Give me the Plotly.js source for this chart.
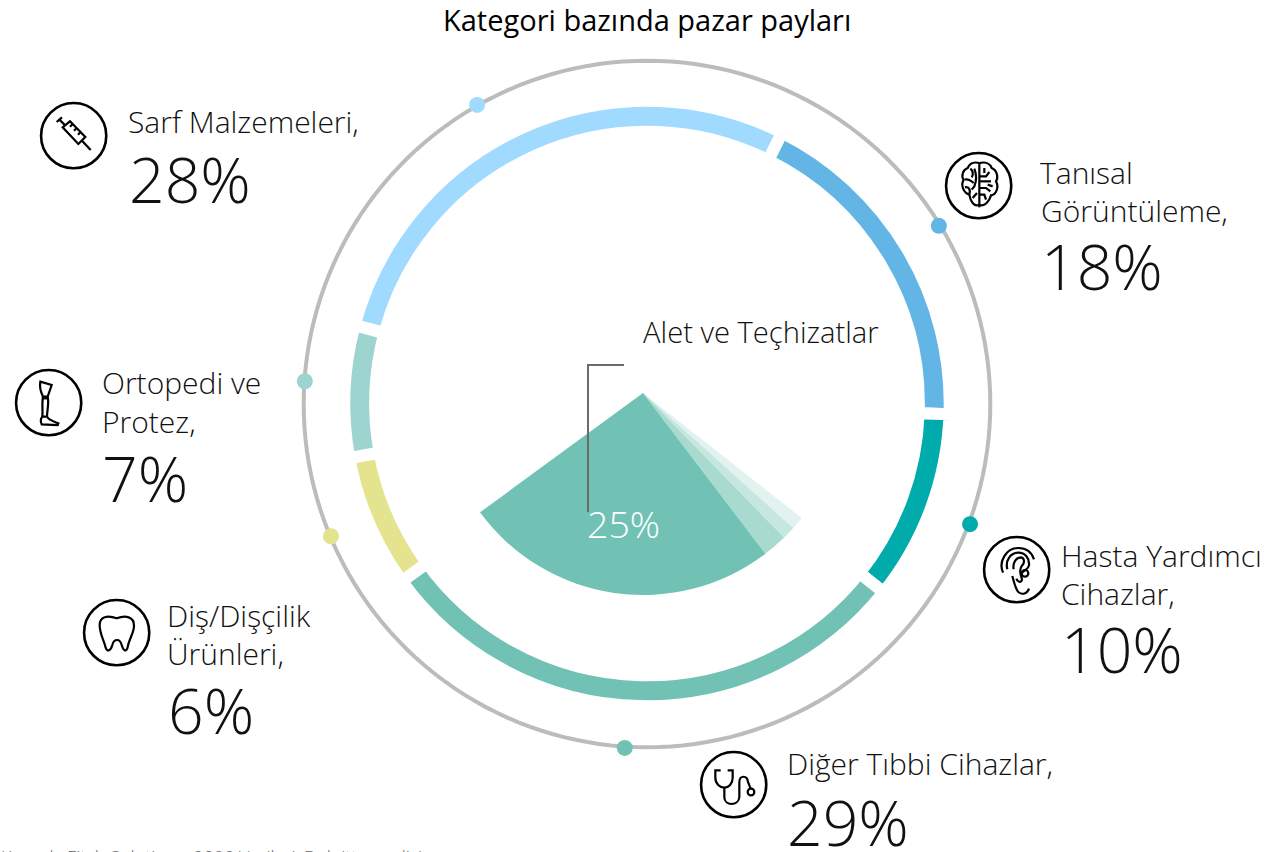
<!DOCTYPE html>
<html><head><meta charset="utf-8">
<script src="https://cdn.plot.ly/plotly-3.0.1.min.js"></script>
<style>html,body{margin:0;padding:0;background:#fff;overflow:hidden}#c{width:1264px;height:852px}</style>
</head><body><div id="c"></div>
<script>
const W = 1264, H = 852;
const chartTitle = 'Kategori bazında pazar payları';
const categories = ['Sarf Malzemeleri', 'Tanısal Görüntüleme', 'Hasta Yardımcı Cihazlar', 'Diğer Tıbbi Cihazlar', 'Diş/Dişçilik Ürünleri', 'Ortopedi ve Protez'];
const shares = [28, 18, 10, 29, 6, 7];
// arc lengths as drawn in the picture (the printed shares do not add to 100)
const arcSpans = [28.2, 18.2, 10.15, 29.3, 7.1, 7.05];
const ringColors = ['#a0dbff', '#62b5e5', '#00abab', '#71c2b4', '#e3e48d', '#9dd4cf'];
const dotAngles = [330.4, 58.6, 110.4, 183.7, 247.3, 273.8];
const dotRadii = [1.002, 0.996, 1.004, 1.004, 0.998, 0.999];
const fanLabels = ['d', 'c', 'b', 'Alet ve Teçhizatlar', 'rest'];
const fanValues = [1.05, 1.03, 1.95, 25.3, 70.67];
const fanColors = ['#e2f2ee', '#c6e6e0', '#a8dad0', '#71c2b4', 'rgba(0,0,0,0)'];
const subTitle = 'Alet ve Teçhizatlar';
const subShare = 25;
const source = 'Kaynak: Fitch Solutions, 2020 Verileri, Deloitte analizi';

const dom = (cx, cy, r) => ({x: [(cx - r) / W, (cx + r) / W], y: [1 - (cy + r) / H, 1 - (cy - r) / H]});
const px = x => x / W, py = y => 1 - y / H;
const radialMax = 1.03;

const traces = [
  {type: 'pie', values: arcSpans, labels: categories, sort: false, direction: 'clockwise', rotation: 285,
   hole: 0.898, domain: dom(647, 403.5, 302.7), textinfo: 'none', showlegend: false, hoverinfo: 'label',
   marker: {colors: ringColors, line: {color: '#ffffff', width: 12}}},
  {type: 'pie', values: fanValues, labels: fanLabels, sort: false, direction: 'clockwise', rotation: 128.2,
   domain: dom(643, 393, 202), textinfo: 'none', showlegend: false, hoverinfo: 'skip',
   marker: {colors: fanColors, line: {width: 0}}},
  {type: 'scatterpolar', subplot: 'polar', mode: 'lines', r: Array(181).fill(1), theta: Array.from({length: 181}, (_, i) => i * 2),
   cliponaxis: false, line: {color: '#bbbcbc', width: 4}, hoverinfo: 'skip', showlegend: false},
  {type: 'scatterpolar', subplot: 'polar', mode: 'markers', r: dotRadii, theta: dotAngles, cliponaxis: false,
   marker: {color: ringColors, size: 16}, hoverinfo: 'skip', showlegend: false}
];

const txt = (text, x, y, size, o = {}) => ({text, x: px(x), y: py(y), xref: 'paper', yref: 'paper', showarrow: false,
  xanchor: o.anchor || 'left', yanchor: 'middle', align: 'left',
  font: {family: '"Open Sans", sans-serif', size, color: o.color || '#111', weight: o.weight || 300}});
const pct = v => v + '%';
const annotations = [
  txt(chartTitle, 647, 19, 29, {anchor: 'center', weight: 400, color: '#000'}),
  txt('Sarf Malzemeleri,', 126, 121.5, 30), txt(pct(shares[0]), 127, 178, 62.5),
  txt('Tanısal', 1038, 172.5, 30), txt('Görüntüleme,', 1039, 210.5, 30), txt(pct(shares[1]), 1039, 265, 62.5),
  txt('Hasta Yardımcı', 1059, 555.5, 30), txt('Cihazlar,', 1059, 593.5, 30), txt(pct(shares[2]), 1059, 648, 62.5),
  txt('Diğer Tıbbi Cihazlar,', 785, 763.5, 30), txt(pct(shares[3]), 785, 821, 62.5),
  txt('Diş/Dişçilik', 165, 615.5, 30), txt('Ürünleri,', 165, 653.5, 30), txt(pct(shares[4]), 166, 709, 62.5),
  txt('Ortopedi ve', 100, 382.5, 30), txt('Protez,', 100, 421.5, 30), txt(pct(shares[5]), 100, 477, 62.5),
  txt(subTitle, 641, 331.5, 29.2),
  txt(pct(subShare), 585, 523.5, 37.5, {color: '#ffffff'}),
  txt(source, -1, 857, 18, {color: '#666'})
];

// icons are drawn in a 225-unit box (3 units per pixel), placed by its top-left corner
function icon(ox, oy, paths) {
  const out = [];
  out.push({type: 'circle', xref: 'paper', yref: 'paper', x0: px(ox + 113/3 - 32.6), x1: px(ox + 113/3 + 32.6),
    y0: py(oy + 113/3 - 32.6), y1: py(oy + 113/3 + 32.6), line: {color: '#000', width: 2.6}});
  paths.forEach(d => {
    let k = 0;
    const path = d.replace(/-?\d+(\.\d+)?/g, n => {
      const v = parseFloat(n) / 3;
      return (k++ % 2 === 0) ? px(ox + v).toFixed(6) : py(oy + v).toFixed(6);
    });
    out.push({type: 'path', xref: 'paper', yref: 'paper', path, line: {color: '#000', width: 2.2}});
  });
  return out;
}
const circ = (x, y, r) => `M${x-r},${y} C${x-r},${y-r*0.55} ${x-r*0.55},${y-r} ${x},${y-r} C${x+r*0.55},${y-r} ${x+r},${y-r*0.55} ${x+r},${y} C${x+r},${y+r*0.55} ${x+r*0.55},${y+r} ${x},${y+r} C${x-r*0.55},${y+r} ${x-r},${y+r*0.55} ${x-r},${y} Z`;
const syringe = ['M62,72 L78,58', 'M70,65 L88,82', 'M80,88 L102,70 L148,117 L127,138 Z', 'M102,86 L110,78', 'M114,98 L122,90', 'M126,110 L134,102', 'M138,128 L164,156'];
const brain = ['M115,45 L115,178', 'M115,45 C95,40 85,48 80,60 C65,65 60,85 68,95 C58,112 68,135 85,140 C88,160 100,178 115,170',
  'M115,45 C135,40 148,48 152,60 C170,68 172,90 165,100 C175,118 165,140 150,142 C145,160 130,178 115,170',
  'M88,62 C96,68 98,80 92,88', 'M72,95 C82,92 92,100 98,105', 'M100,62 C105,75 108,95 100,115 L92,125', 'M72,118 C82,115 90,125 85,138', 'M95,150 L108,135',
  'M115,85 L135,85 L145,72', 'M115,100 L150,100', 'M115,120 L135,120 L148,130', 'M115,140 L130,140 L135,155', 'M130,60 L130,75', 'M155,115 L140,110'];
const ear = ['M72,122 C58,90 80,48 118,48 C140,48 158,60 165,82', 'M85,112 C78,85 95,62 118,62 C138,62 152,78 150,100 C148,112 138,112 130,122',
  'M100,132 C106,155 110,172 118,180 C130,190 145,185 150,170', 'M104,112 C100,92 112,76 126,76 C136,78 138,90 130,100 C122,108 122,122 128,138 C132,150 120,155 112,140', circ(138, 124, 10)];
const steth = ['M74,70 L58,70 L58,92 C58,110 72,122 85,122 C98,122 110,110 110,92 L110,70 L95,70', 'M85,122 L85,150 C85,178 128,178 130,150 L130,105 C130,84 154,84 156,105 L164,125', circ(165, 135, 10)];
const tooth = ['M62,90 C62,65 85,60 113,70 C140,60 165,65 165,92 C165,115 150,130 145,160 C140,172 132,165 128,150 C123,130 105,130 100,150 C95,168 85,172 80,158 C75,135 62,118 62,90 Z'];
const leg = ['M88,50 L122,60 L110,95 L96,95 C88,78 85,65 88,50 Z', 'M96,95 C92,115 96,135 94,155', 'M110,95 C115,115 108,135 108,155', 'M94,155 L108,155 C112,165 130,170 142,175 L140,180 L92,178 C88,170 90,160 94,155 Z', 'M94,100 L110,100'];

const shapes = [
  {type: 'path', xref: 'paper', yref: 'paper',
   path: `M${px(624)},${py(365)} L${px(588)},${py(365)} L${px(588)},${py(512)}`, line: {color: '#6b6b6b', width: 2}},
  ...icon(36, 98, syringe), ...icon(941, 148, brain), ...icon(979, 532, ear),
  ...icon(696, 747, steth), ...icon(79, 595, tooth), ...icon(11, 365, leg)
];

const layout = {
  width: W, height: H, margin: {l: 0, r: 0, t: 0, b: 0}, paper_bgcolor: '#fff', showlegend: false,
  polar: {domain: dom(647, 404, 343.3 * radialMax), bgcolor: 'rgba(0,0,0,0)',
    radialaxis: {visible: false, range: [0, radialMax]},
    angularaxis: {visible: false, rotation: 90, direction: 'clockwise'}},
  annotations, shapes
};
Plotly.newPlot('c', traces, layout, {displayModeBar: false, staticPlot: true});
</script></body></html>
